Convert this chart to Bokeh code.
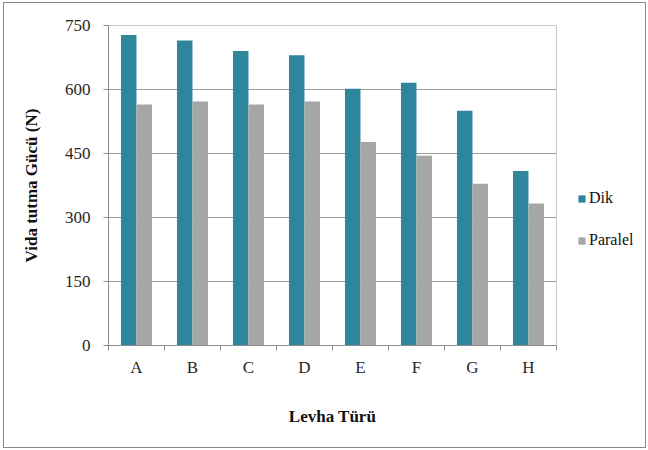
from bokeh.plotting import figure
from bokeh.models import (Range1d, LinearAxis, FixedTicker, Legend, LegendItem, ColumnDataSource)
from bokeh.layouts import row
from bokeh.transform import dodge
from bokeh.embed import file_html
from bokeh.resources import INLINE

categories = ["A", "B", "C", "D", "E", "F", "G", "H"]
dik = [728, 715, 690, 680, 602, 616, 550, 409]
paralel = [565, 572, 565, 572, 477, 445, 379, 333]
series_names = ["Dik", "Paralel"]
y_ticks = [0, 150, 300, 450, 600, 750]

FONT = "Liberation Serif"
DIK_COLOR = "#2E859C"
PAR_COLOR = "#A6A6A6"

# category slots: centre of slot i is i + 0.5
centres = [i + 0.5 for i in range(len(categories))]
edges = list(range(len(categories) + 1))
src = ColumnDataSource(dict(pos=centres, cat=categories, dik=dik, paralel=paralel))

p = figure(x_range=Range1d(0, len(categories)), y_range=Range1d(0, 750),
           width=553, height=444, output_backend="svg", toolbar_location=None,
           x_axis_location=None, y_axis_location=None,
           min_border_left=104, min_border_right=1, min_border_top=22, min_border_bottom=102)

r1 = p.vbar(x=dodge("pos", -0.139), top="dik", width=0.277, source=src,
            fill_color=DIK_COLOR, line_color=None)
r2 = p.vbar(x=dodge("pos", 0.139), top="paralel", width=0.277, source=src,
            fill_color=PAR_COLOR, line_color=None)

# y axis
yax = LinearAxis(ticker=FixedTicker(ticks=y_ticks), axis_label="Vida tutma Gücü (N)")
yax.axis_line_color = "#8c8c8c"
yax.major_tick_line_color = "#8c8c8c"
yax.major_tick_out = 5
yax.major_tick_in = 0
yax.minor_tick_line_color = None
yax.major_label_text_font = FONT
yax.major_label_text_font_size = "17px"
yax.major_label_text_color = "#262626"
yax.major_label_standoff = 13
yax.axis_label_text_font = FONT
yax.axis_label_text_font_size = "17px"
yax.axis_label_text_font_style = "bold"
yax.axis_label_text_color = "#111111"
yax.axis_label_standoff = 21
p.add_layout(yax, "left")

# x axis: labels at category centres, tick marks at category edges
xax = LinearAxis(ticker=FixedTicker(ticks=centres, minor_ticks=edges),
                 axis_label="Levha Türü")
xax.major_label_overrides = {c: lab for c, lab in zip(centres, categories)}
xax.axis_line_color = "#8c8c8c"
xax.major_tick_line_color = None
xax.major_tick_out = 0
xax.major_tick_in = 0
xax.minor_tick_line_color = "#8c8c8c"
xax.minor_tick_out = 5
xax.minor_tick_in = 0
xax.major_label_text_font = FONT
xax.major_label_text_font_size = "17px"
xax.major_label_text_color = "#262626"
xax.major_label_standoff = 7
xax.axis_label_text_font = FONT
xax.axis_label_text_font_size = "17px"
xax.axis_label_text_font_style = "bold"
xax.axis_label_text_color = "#111111"
xax.axis_label_standoff = 27
p.add_layout(xax, "below")

p.xgrid.visible = False
p.ygrid.ticker = FixedTicker(ticks=y_ticks)
p.ygrid.grid_line_color = "#9a9a9a"
p.ygrid.grid_line_width = 1
p.outline_line_color = "#c8c8c8"
p.background_fill_color = "white"
p.border_fill_color = "white"

# legend lives in a narrow companion figure to the right of the plot
lg = figure(width=88, height=444, output_backend="svg", toolbar_location=None,
            x_range=Range1d(0, 1), y_range=Range1d(0, 1),
            x_axis_location=None, y_axis_location=None,
            min_border_left=0, min_border_right=0, min_border_top=0, min_border_bottom=0)
lg.xgrid.visible = False
lg.ygrid.visible = False
lg.outline_line_color = None
lg.border_fill_color = "white"
lg.background_fill_color = "white"
# zero-height proxy bars (nothing visible) that only carry the legend swatches
lg_src = ColumnDataSource(dict(x=[0.0], top=[0.0], bottom=[0.0]))
d1 = lg.vbar(x="x", top="top", bottom="bottom", width=0.0, source=lg_src,
             fill_color=DIK_COLOR, line_color=None)
d2 = lg.vbar(x="x", top="top", bottom="bottom", width=0.0, source=lg_src,
             fill_color=PAR_COLOR, line_color=None)

legend = Legend(items=[LegendItem(label=series_names[0], renderers=[d1]),
                       LegendItem(label=series_names[1], renderers=[d2])],
                location=(20, 95))
legend.glyph_width = 9
legend.glyph_height = 9
legend.label_standoff = 3
legend.spacing = 22
legend.padding = 0
legend.margin = 0
legend.border_line_color = None
legend.background_fill_alpha = 0
legend.label_text_font = FONT
legend.label_text_font_size = "16px"
legend.label_text_color = "#111111"
legend.label_height = 20
lg.add_layout(legend, "center")

layout = row(p, lg, spacing=0)
layout.styles = {"border": "1px solid #8a8a8a", "margin-left": "3px", "margin-top": "2px"}

open("out.html", "w").write(file_html(layout, INLINE))
